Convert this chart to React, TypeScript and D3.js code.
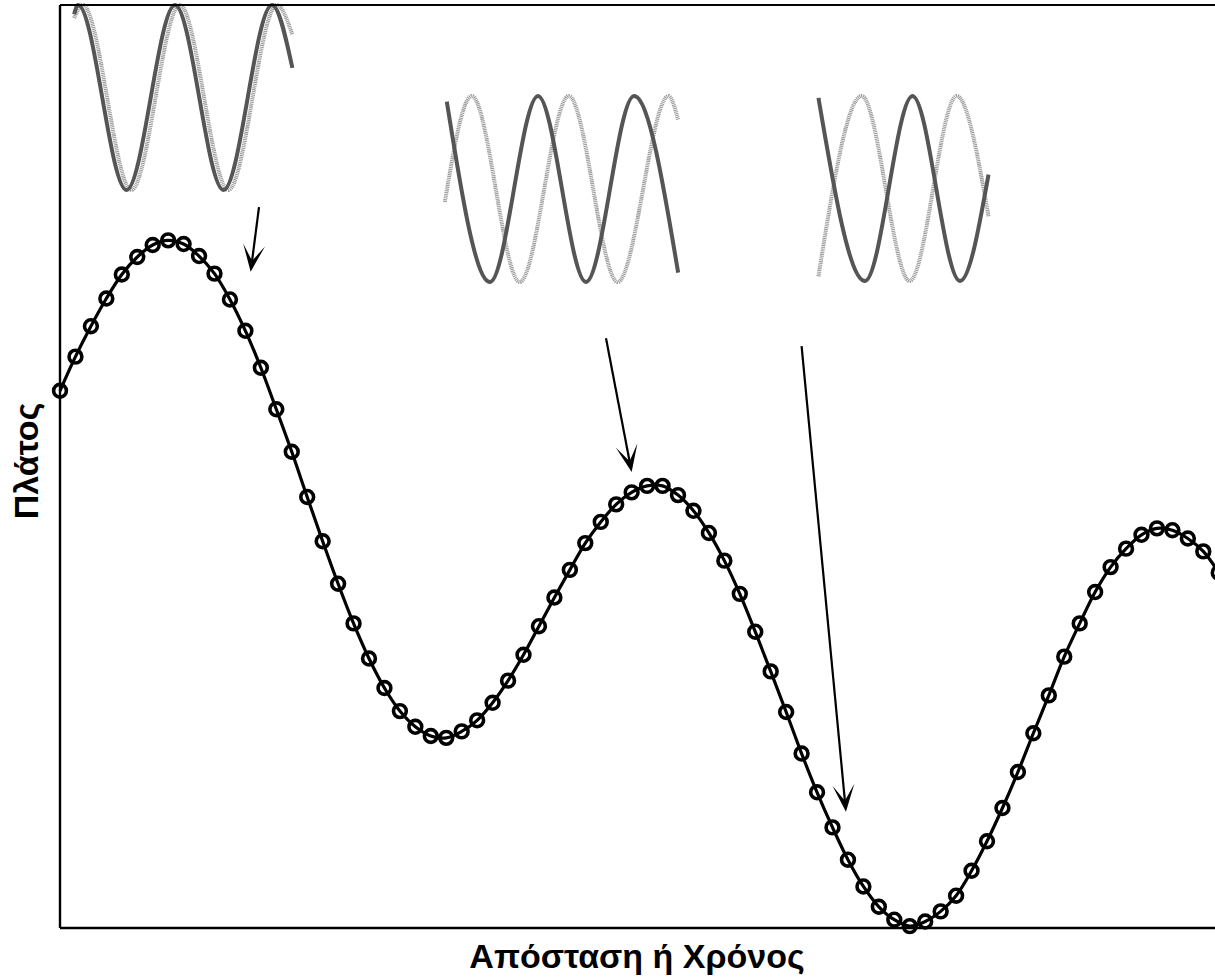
import React from "react";
import * as d3 from "d3";

// Sample number along the distance/time axis (evenly spaced samples)
const sampleIndex: number[] = Array.from({ length: 76 }, (_, i) => i);

// Amplitude read at each sample (arbitrary units, 0 = bottom of plot, 100 = top)
const amplitude: number[] = [
  58.2, 61.9, 65.2, 68.2, 70.8, 72.7, 74.0, 74.5, 74.1, 72.8,
  70.9, 68.1, 64.7, 60.7, 56.2, 51.6, 46.7, 41.9, 37.3, 33.0,
  29.2, 26.0, 23.5, 21.8, 20.8, 20.6, 21.3, 22.5, 24.4, 26.8,
  29.6, 32.7, 35.8, 38.8, 41.7, 44.0, 45.9, 47.2, 47.9, 47.9,
  46.9, 45.2, 42.8, 39.8, 36.2, 32.1, 27.8, 23.4, 18.9, 14.7,
  10.9, 7.4, 4.5, 2.3, 0.9, 0.2, 0.7, 1.8, 3.5, 6.2,
  9.4, 13.0, 16.9, 21.1, 25.2, 29.4, 33.0, 36.4, 39.1, 41.1,
  42.6, 43.3, 43.1, 42.2, 40.8, 38.5,
];

// Inset waves: [phase in cycles, normalized value] key points (peaks/troughs/ends)
const inset1Dark: [number, number][] = [[-0.04, 0.9], [0, 1], [0.5, -1], [1, 1], [1.5, -1], [2, 1], [2.21, 0.32]];
const inset1Light: [number, number][] = [[-0.04, 0.86], [0.05, 1], [0.55, -1], [1.05, 1], [1.55, -1], [2.05, 1], [2.21, 0.68]];
const inset2Dark: [number, number][] = [[0.05, 0.94], [0.5, -1], [1, 1], [1.5, -1], [2, 1], [2.46, -0.9]];
const inset2Light: [number, number][] = [[0.03, -0.14], [0.31, 1], [0.81, -1], [1.32, 1], [1.83, -1], [2.36, 1], [2.46, 0.74]];
const inset3Dark: [number, number][] = [[0.01, 0.98], [0.5, -1], [1.0, 1], [1.5, -1], [1.8, 0.15]];
const inset3Light: [number, number][] = [[0.01, -0.95], [0.465, 1], [0.97, -1], [1.465, 1], [1.8, -0.3]];

// Arrow annotations in data coordinates [sample, amplitude]
const arrowFrom: [number, number][] = [[12.88, 78.1], [35.34, 63.9], [48.0, 63.05]];
const arrowTo: [number, number][] = [[12.34, 71.1], [37.0, 49.4], [50.87, 12.6]];

const xLabel = "Απόσταση ή Χρόνος";
const yLabel = "Πλάτος";

const W = 1215;
const H = 980;
const LEFT = 60;
const TOP = 5;
const BOTTOM = 928;
const STEP = 15.45;

const insetLayout = [
  { x0: 78, period: 97, cy: 97.5, amp: 92.5, dark: inset1Dark, light: inset1Light },
  { x0: 442, period: 96, cy: 189, amp: 93, dark: inset2Dark, light: inset2Light },
  { x0: 817.5, period: 95, cy: 188.5, amp: 92.5, dark: inset3Dark, light: inset3Light },
];

function arrowHead(x1: number, y1: number, x2: number, y2: number) {
  const dx = x2 - x1, dy = y2 - y1;
  const len = Math.hypot(dx, dy);
  const ux = dx / len, uy = dy / len;
  const px = -uy, py = ux;
  const L = 27, Wd = 11, N = 11;
  const bx = x2 - ux * L, by = y2 - uy * L;
  const nx = x2 - ux * N, ny = y2 - uy * N;
  return {
    poly: `${x2},${y2} ${bx + px * Wd},${by + py * Wd} ${nx},${ny} ${bx - px * Wd},${by - py * Wd}`,
    nx, ny,
  };
}

export default function App() {
  const x = d3.scaleLinear().domain([0, sampleIndex.length - 1]).range([LEFT, LEFT + STEP * (sampleIndex.length - 1)]);
  const y = d3.scaleLinear().domain([0, 100]).range([BOTTOM, TOP]);

  const mainLine = d3
    .line<number>()
    .x((_, i) => x(sampleIndex[i]))
    .y((d) => y(d))
    .curve(d3.curveCatmullRom.alpha(0.5));

  return (
    <svg width={W} height={H} style={{ position: "absolute", left: 0, top: 0, display: "block" }}>
      <rect x={0} y={0} width={W} height={H} fill="#fff" />
      {/* insets */}
      {insetLayout.map((ins, k) => {
        const sx = d3.scaleLinear().domain([0, 1]).range([ins.x0, ins.x0 + ins.period]);
        const sy = d3.scaleLinear().domain([-1, 1]).range([ins.cy + ins.amp, ins.cy - ins.amp]);
        const ln = d3
          .line<[number, number]>()
          .x((d) => sx(d[0]))
          .y((d) => sy(d[1]))
          .curve(d3.curveMonotoneX);
        return (
          <g key={k}>
            <path d={ln(ins.light) || ""} fill="none" stroke="#9c9c9c" strokeWidth={4} strokeDasharray="1.1 0.7" />
            <path d={ln(ins.dark) || ""} fill="none" stroke="#555" strokeWidth={4} />
          </g>
        );
      })}

      {/* frame */}
      <line x1={LEFT} x2={W + 20} y1={TOP} y2={TOP} stroke="#000" strokeWidth={2} />
      <line x1={LEFT} x2={LEFT} y1={TOP} y2={BOTTOM} stroke="#000" strokeWidth={2.4} />
      <line x1={LEFT} x2={W + 20} y1={BOTTOM} y2={BOTTOM} stroke="#000" strokeWidth={2.4} />

      {/* arrows */}
      {arrowFrom.map((f, i) => {
        const t = arrowTo[i];
        const x1 = x(f[0]), y1 = y(f[1]), x2 = x(t[0]), y2 = y(t[1]);
        const h = arrowHead(x1, y1, x2, y2);
        return (
          <g key={i}>
            <line x1={x1} y1={y1} x2={h.nx} y2={h.ny} stroke="#000" strokeWidth={2.2} />
            <polygon points={h.poly} fill="#000" />
          </g>
        );
      })}

      {/* main curve */}
      <path d={mainLine(amplitude) || ""} fill="none" stroke="#000" strokeWidth={3.2} />
      {amplitude.map((v, i) => (
        <circle key={i} cx={x(sampleIndex[i])} cy={y(v)} r={6.4} fill="none" stroke="#000" strokeWidth={3.6} />
      ))}

      {/* labels */}
      <text
        x={637}
        y={968}
        textAnchor="middle"
        fontFamily="'Liberation Sans', Arial, sans-serif"
        fontWeight="bold"
        fontSize={34}
        fill="#000"
      >
        {xLabel}
      </text>
      <text
        transform={`translate(38,461) rotate(-90)`}
        textAnchor="middle"
        fontFamily="'Liberation Sans', Arial, sans-serif"
        fontWeight="bold"
        fontSize={34}
        fill="#000"
      >
        {yLabel}
      </text>
    </svg>
  );
}
